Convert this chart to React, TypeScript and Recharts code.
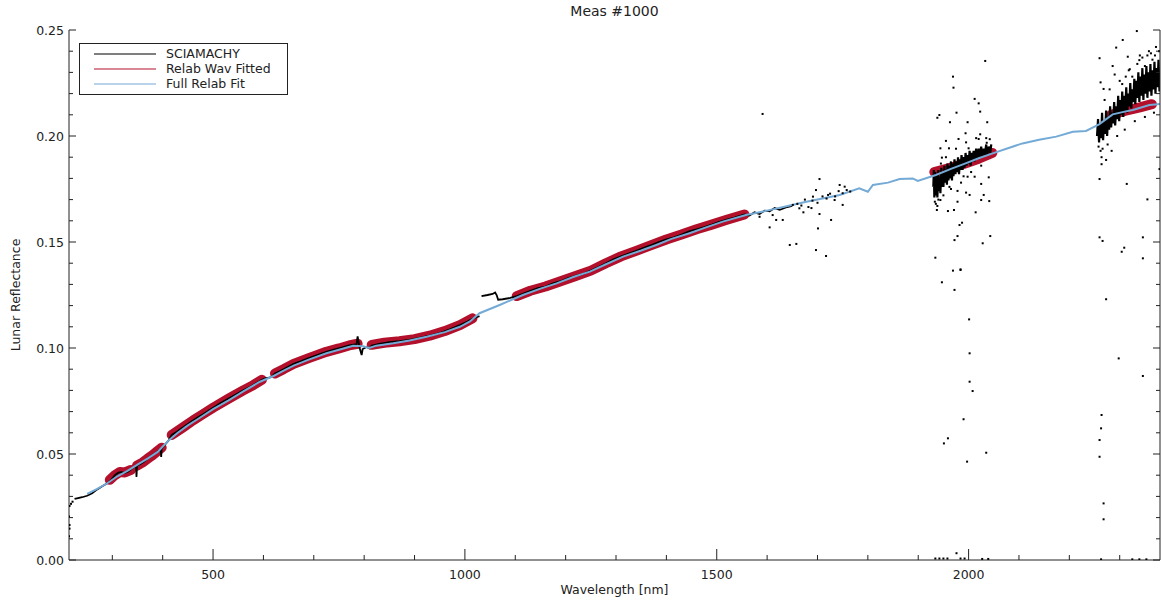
import { ComposedChart, Line, Scatter, XAxis, YAxis } from "recharts";

const W = 1161;
const H = 601;
const PLOT = { left: 69, right: 1160, top: 30, bottom: 560 };
const FONT = "'DejaVu Sans', Verdana, sans-serif";
const INK = "#222";
const RED = "#b3102c";
const BLUE = "#74aad6";

const xDomain: [number, number] = [214, 2380];
const yDomain: [number, number] = [0, 0.25];

const xTicks = [300, 400, 500, 600, 700, 800, 900, 1000, 1100, 1200, 1300, 1400, 1500, 1600, 1700, 1800, 1900, 2000, 2100, 2200, 2300];
const xLabels = [500, 1000, 1500, 2000];
const yTicks = [0, 0.01, 0.02, 0.03, 0.04, 0.05, 0.06, 0.07, 0.08, 0.09, 0.1, 0.11, 0.12, 0.13, 0.14, 0.15, 0.16, 0.17, 0.18, 0.19, 0.2, 0.21, 0.22, 0.23, 0.24, 0.25];
const yLabels = [0, 0.05, 0.1, 0.15, 0.2, 0.25];

// SCIAMACHY spectrum (nm, reflectance) in the UV/visible; null breaks the line
const sciamachy: [number, number | null][] = [
  [225, 0.0288], [232, 0.0292], [240, 0.0296], [250, 0.0303], [260, 0.0315], [270, 0.0333], [280, 0.0348],
  [290, 0.0362], [298, 0.0378], [305, 0.04], [312, 0.0412], [318, 0.0414], [325, 0.0411], [332, 0.0418],
  [337, 0.0428], [343, 0.0438], [347, 0.0445], [348, 0.0392], [349, 0.0445], [355, 0.0452], [362, 0.0462],
  [370, 0.0477], [378, 0.0492], [386, 0.0505], [393, 0.0518], [396, 0.0522], [397, 0.0486], [398, 0.0526],
  [405, 0.0545], [412, 0.0565], [418, 0.059], [428, 0.0605], [440, 0.0625], [450, 0.0642], [460, 0.0658],
  [470, 0.0673], [480, 0.0688], [490, 0.0703], [500, 0.0718], [515, 0.074], [530, 0.076], [545, 0.078],
  [560, 0.08], [575, 0.0818], [590, 0.084], [597, 0.085], [605, 0.0858], [612, 0.086], [618, 0.0868],
  [623, 0.088], [632, 0.089], [640, 0.09], [650, 0.0912], [660, 0.0925], [675, 0.0938], [690, 0.0952],
  [705, 0.0965], [725, 0.0982], [740, 0.0992], [755, 0.1002], [770, 0.1012], [785, 0.1018], [787, 0.1055],
  [791, 0.1], [795, 0.0967], [797, 0.0995], [805, 0.1005], [810, 0.0998], [815, 0.1012], [830, 0.102],
  [850, 0.1028], [870, 0.1032], [890, 0.1038], [910, 0.1048], [930, 0.1058], [950, 0.107], [970, 0.1088],
  [990, 0.1108], [1005, 0.1125], [1015, 0.1138], [1029, 0.115], [1031, null],
  [1033, 0.1245], [1045, 0.125], [1055, 0.1255], [1060, 0.1262], [1063, 0.125], [1066, 0.1228], [1075, 0.123],
  [1090, 0.1236], [1103, 0.1245], [1115, 0.1255], [1130, 0.127], [1145, 0.1282], [1160, 0.129], [1175, 0.1305],
  [1190, 0.1315], [1205, 0.133], [1220, 0.134], [1235, 0.135], [1250, 0.1365], [1265, 0.1382], [1280, 0.14],
  [1295, 0.1418], [1310, 0.1432], [1325, 0.1445], [1340, 0.1458], [1355, 0.1472], [1370, 0.1485], [1385, 0.15],
  [1400, 0.1512], [1415, 0.1522], [1430, 0.1535], [1445, 0.155], [1460, 0.156], [1475, 0.157], [1490, 0.1582],
  [1505, 0.1595], [1520, 0.1605], [1535, 0.1615], [1555, 0.163], [1565, 0.1625], [1575, 0.164], [1585, 0.1632],
  [1595, 0.1648], [1605, 0.1645], [1615, 0.166], [1625, 0.1652], [1640, 0.1665], [1650, 0.167],
];

// SCIAMACHY 2.0 µm band: dense noisy cloud, lower/upper envelope read alternately
const sciaBand2000: [number, number][] = [
  [1930, 0.176], [1931, 0.184], [1932, 0.171], [1934, 0.183], [1935, 0.172], [1937, 0.182], [1938, 0.171],
  [1940, 0.184], [1941, 0.174], [1943, 0.181], [1944, 0.173], [1946, 0.185], [1947, 0.176], [1949, 0.183],
  [1950, 0.176], [1952, 0.186], [1953, 0.178], [1955, 0.184], [1957, 0.177], [1958, 0.187], [1960, 0.179],
  [1962, 0.186], [1963, 0.18], [1965, 0.188], [1967, 0.179], [1968, 0.187], [1970, 0.181], [1972, 0.189],
  [1974, 0.182], [1975, 0.188], [1977, 0.183], [1979, 0.19], [1981, 0.182], [1983, 0.189], [1984, 0.184],
  [1986, 0.191], [1988, 0.184], [1990, 0.19], [1992, 0.185], [1994, 0.192], [1996, 0.186], [1998, 0.191],
  [2000, 0.187], [2002, 0.193], [2004, 0.186], [2006, 0.192], [2008, 0.188], [2010, 0.193], [2012, 0.188],
  [2015, 0.194], [2017, 0.189], [2020, 0.194], [2022, 0.19], [2025, 0.195], [2027, 0.19], [2030, 0.194],
  [2032, 0.191], [2035, 0.196], [2037, 0.191], [2040, 0.195], [2043, 0.192], [2045, 0.196],
];

// SCIAMACHY 2.3 µm band cloud
const sciaBand2300: [number, number][] = [
  [2255, 0.2], [2257, 0.208], [2259, 0.197], [2261, 0.206], [2263, 0.199], [2265, 0.211], [2267, 0.198],
  [2269, 0.207], [2271, 0.201], [2273, 0.212], [2275, 0.2], [2277, 0.209], [2279, 0.203], [2281, 0.214],
  [2283, 0.204], [2285, 0.211], [2287, 0.206], [2289, 0.216], [2291, 0.205], [2293, 0.214], [2295, 0.208],
  [2297, 0.219], [2299, 0.207], [2301, 0.217], [2303, 0.21], [2305, 0.221], [2307, 0.209], [2309, 0.219],
  [2311, 0.212], [2313, 0.223], [2315, 0.211], [2317, 0.22], [2319, 0.214], [2321, 0.225], [2323, 0.213],
  [2325, 0.222], [2327, 0.216], [2329, 0.227], [2331, 0.215], [2333, 0.226], [2335, 0.218], [2337, 0.23],
  [2339, 0.216], [2341, 0.228], [2343, 0.219], [2345, 0.232], [2347, 0.217], [2349, 0.229], [2351, 0.22],
  [2353, 0.233], [2355, 0.218], [2357, 0.23], [2359, 0.221], [2361, 0.234], [2363, 0.219], [2365, 0.231],
  [2367, 0.222], [2369, 0.235], [2371, 0.22], [2373, 0.232], [2375, 0.223], [2377, 0.236], [2379, 0.221],
];

// SCIAMACHY points scattered away from the main trace
const sciaDots: [number, number][] = [
  [214, 0.0112], [215, 0.0148], [215, 0.0165], [214, 0.0205], [215, 0.0255], [218, 0.0265], [221, 0.0275],
  [1585, 0.1619], [1591, 0.2104], [1605, 0.1569], [1611, 0.1627], [1618, 0.1604], [1631, 0.1604], [1645, 0.1486],
  [1651, 0.1675], [1658, 0.1491], [1660, 0.168], [1664, 0.1659], [1668, 0.1672], [1672, 0.164], [1675, 0.17],
  [1682, 0.1665], [1688, 0.166], [1690, 0.1695], [1691, 0.1714], [1697, 0.1745], [1697, 0.1462], [1700, 0.1685],
  [1701, 0.1564], [1704, 0.1797], [1704, 0.1632], [1710, 0.1715], [1717, 0.1434], [1718, 0.1705], [1721, 0.1722],
  [1725, 0.1728], [1727, 0.1604], [1734, 0.1698], [1735, 0.1715], [1742, 0.174], [1744, 0.1769], [1750, 0.1675],
  [1750, 0.173], [1754, 0.1761], [1758, 0.1745], [1765, 0.1738],
  [2033, 0.2354], [1969, 0.228], [1970, 0.2228], [2012, 0.2175], [2020, 0.2154], [1938, 0.2086], [1942, 0.2099],
  [1976, 0.211], [2023, 0.2115], [1963, 0.2065], [1998, 0.2065], [2037, 0.2065], [1994, 0.2013], [2023, 0.2008],
  [1980, 0.1986], [2020, 0.1986], [1955, 0.1977], [1944, 0.1942], [1961, 0.1942], [1947, 0.1898], [2000, 0.1942],
  [2036, 0.1968], [1998, 0.1808], [2012, 0.1808], [2040, 0.1805], [2025, 0.1774], [1978, 0.1741], [1995, 0.1733],
  [2030, 0.1722], [2002, 0.1722], [1944, 0.1698], [1978, 0.169], [2025, 0.1698], [2041, 0.1693], [1937, 0.1651],
  [1959, 0.1646], [1971, 0.1651], [2014, 0.164], [1987, 0.1591], [1982, 0.158], [1978, 0.1528], [1972, 0.1509],
  [2043, 0.1528], [2028, 0.1494], [1934, 0.1426], [1984, 0.1371], [1969, 0.1365], [1984, 0.1368], [1947, 0.131],
  [1972, 0.1274], [2001, 0.1135], [2002, 0.0975], [2002, 0.0841], [2008, 0.0797], [1990, 0.0664], [1959, 0.0574],
  [1951, 0.055], [2035, 0.0506], [1997, 0.0464], [1976, 0.0032],
  [1935, 0.168], [1940, 0.17], [1945, 0.187], [1955, 0.19], [1965, 0.175], [1975, 0.194], [1985, 0.178],
  [1995, 0.197], [2005, 0.183], [2015, 0.199], [2025, 0.186], [2035, 0.199], [2042, 0.1985], [1933, 0.169],
  [1938, 0.167], [1950, 0.172], [1962, 0.176], [1990, 0.181],
  [1934, 0.0007], [1942, 0.0007], [1950, 0.0007], [1958, 0.0007], [1984, 0.0007], [1992, 0.0007], [2027, 0.0005], [2039, 0.0005],
  [2263, 0.0621], [2260, 0.0487], [2268, 0.0192], [2263, 0.0003], [2325, 0.0003], [2339, 0.0003], [2353, 0.0003],
  [2306, 0.2453], [2293, 0.2417], [2334, 0.2495], [2260, 0.2367], [2316, 0.2374], [2286, 0.233], [2262, 0.2253],
  [2268, 0.2222], [2339, 0.2358], [2264, 0.19], [2273, 0.1887], [2264, 0.1867], [2260, 0.1797], [2314, 0.1774],
  [2355, 0.1701], [2379, 0.1844], [2260, 0.1522], [2266, 0.1505], [2304, 0.1454], [2309, 0.1473], [2346, 0.1522],
  [2346, 0.1423], [2273, 0.123], [2298, 0.0951], [2346, 0.0868], [2264, 0.0684], [2260, 0.0566], [2268, 0.0267],
  [2290, 0.229], [2300, 0.226], [2318, 0.231], [2325, 0.228], [2340, 0.238], [2350, 0.233], [2358, 0.24],
  [2365, 0.236], [2372, 0.242], [2376, 0.229], [2280, 0.222], [2270, 0.217], [2284, 0.193], [2295, 0.2],
  [2310, 0.203], [2330, 0.207], [2350, 0.209], [2368, 0.211], [2276, 0.196], [2262, 0.193], [2258, 0.195],
  [2266, 0.194], [2335, 0.234], [2345, 0.237], [2355, 0.238], [2362, 0.239], [2370, 0.238], [2378, 0.24],
  [2320, 0.2315], [2312, 0.228], [2305, 0.2245],
];

// Relab spectrum fitted in wavelength, only where SCIAMACHY is usable
const relabFitted: [number, number | null][] = [
  [295, 0.0378], [305, 0.04], [315, 0.0415], [325, 0.0413], [337, 0.0425], [343, null],
  [349, 0.0445], [360, 0.046], [370, 0.0478], [380, 0.0495], [390, 0.0515], [398, 0.053], [408, null],
  [418, 0.059], [440, 0.0625], [460, 0.0658], [480, 0.0688], [500, 0.0718], [530, 0.076], [560, 0.08],
  [580, 0.0825], [597, 0.085], [610, null],
  [623, 0.088], [640, 0.09], [660, 0.0925], [690, 0.0952], [725, 0.0982], [750, 0.0998], [770, 0.1012],
  [787, 0.102], [800, null],
  [815, 0.1015], [840, 0.1025], [870, 0.1032], [900, 0.1042], [930, 0.1058], [960, 0.108], [990, 0.1108],
  [1015, 0.114], [1060, null],
  [1103, 0.1245], [1130, 0.127], [1160, 0.129], [1190, 0.1315], [1220, 0.134], [1250, 0.1365], [1280, 0.14],
  [1310, 0.1432], [1340, 0.1458], [1370, 0.1485], [1400, 0.1512], [1430, 0.1535], [1460, 0.156], [1490, 0.1582],
  [1520, 0.1605], [1555, 0.163], [1700, null],
  [1932, 0.183], [1960, 0.1848], [1990, 0.1868], [2020, 0.1893], [2047, 0.192], [2150, null],
  [2283, 0.21], [2310, 0.2118], [2340, 0.2135], [2364, 0.215],
];

// full Relab fit across the whole range
const fullRelab: [number, number][] = [
  [250, 0.0312], [270, 0.0335], [290, 0.0362], [310, 0.0395], [330, 0.042], [350, 0.045], [370, 0.0478],
  [390, 0.051], [410, 0.056], [430, 0.06], [450, 0.0635], [470, 0.0665], [500, 0.0712], [530, 0.0752],
  [560, 0.0795], [593, 0.0841], [620, 0.0868], [640, 0.0893], [660, 0.0917], [690, 0.0945], [725, 0.0975],
  [750, 0.0992], [778, 0.1011], [798, 0.1008], [810, 0.1], [824, 0.1011], [858, 0.1022], [890, 0.1035],
  [924, 0.1053], [960, 0.1075], [990, 0.11], [1010, 0.1125], [1029, 0.1164], [1069, 0.1203], [1115, 0.125],
  [1150, 0.128], [1182, 0.1305], [1215, 0.1335], [1248, 0.136], [1280, 0.1395], [1314, 0.1431], [1350, 0.146],
  [1380, 0.1486], [1410, 0.1515], [1446, 0.1541], [1480, 0.157], [1512, 0.1596], [1558, 0.1627], [1590, 0.1643],
  [1611, 0.1654], [1645, 0.1672], [1678, 0.169], [1710, 0.1705], [1744, 0.1722], [1783, 0.1753], [1800, 0.1737],
  [1810, 0.1769], [1840, 0.178], [1863, 0.1797], [1889, 0.18], [1899, 0.1788], [1935, 0.1816], [1965, 0.1845],
  [1994, 0.1871], [2020, 0.1895], [2048, 0.1918], [2075, 0.194], [2107, 0.1965], [2140, 0.1982], [2174, 0.1997],
  [2207, 0.202], [2233, 0.2024], [2259, 0.2055], [2286, 0.2102], [2310, 0.2115], [2326, 0.2123], [2359, 0.2146],
  [2380, 0.2151],
];

const legendItems = [
  { name: "SCIAMACHY", color: "#000" },
  { name: "Relab Wav Fitted", color: RED },
  { name: "Full Relab Fit", color: BLUE },
];

const rows = (a: [number, number | null][]) => a.map(([x, y]) => ({ x, y }));
const isMajorY = (v: number) => yLabels.some((l) => Math.abs(l - v) < 1e-9);

const BottomTick = ({ x, payload }: any) => {
  const major = xLabels.includes(payload.value);
  return (
    <g>
      <line x1={x} x2={x} y1={PLOT.bottom} y2={PLOT.bottom - (major ? 11 : 5)} stroke={INK} />
      {major && (
        <text x={x} y={PLOT.bottom + 19} textAnchor="middle" fontSize={12.5} fontFamily={FONT} fill={INK}>
          {payload.value}
        </text>
      )}
    </g>
  );
};

const TopTick = ({ x, payload }: any) => {
  const major = xLabels.includes(payload.value);
  return <line x1={x} x2={x} y1={PLOT.top} y2={PLOT.top + (major ? 11 : 5)} stroke={INK} />;
};

const LeftTick = ({ y, payload }: any) => {
  const major = isMajorY(payload.value);
  return (
    <g>
      <line x1={PLOT.left} x2={PLOT.left + (major ? 7 : 4)} y1={y} y2={y} stroke={INK} />
      {major && (
        <text x={PLOT.left - 5} y={y + 4.5} textAnchor="end" fontSize={12.5} fontFamily={FONT} fill={INK}>
          {payload.value.toFixed(2)}
        </text>
      )}
    </g>
  );
};

const RightTick = ({ y, payload }: any) => {
  const major = isMajorY(payload.value);
  return <line x1={PLOT.right} x2={PLOT.right - (major ? 7 : 4)} y1={y} y2={y} stroke={INK} />;
};

const Dot = (p: any) => <rect x={p.cx - 1} y={p.cy - 1} width={2} height={2} fill="#000" />;

export default function App() {
  return (
    <div style={{ position: "absolute", left: 0, top: 0, width: W, height: H, background: "#fff", fontFamily: FONT }}>
      <ComposedChart width={W} height={H} margin={{ top: PLOT.top, right: 0, bottom: 0, left: 0 }}>
        <XAxis dataKey="x" type="number" domain={xDomain} ticks={xTicks} interval={0} height={41}
          allowDataOverflow tickLine={false} axisLine={{ stroke: INK }} tick={<BottomTick />} />
        <XAxis xAxisId="top" orientation="top" dataKey="x" type="number" domain={xDomain} ticks={xTicks} interval={0}
          height={0} allowDataOverflow tickLine={false} axisLine={{ stroke: INK }} tick={<TopTick />} />
        <YAxis dataKey="y" type="number" domain={yDomain} ticks={yTicks} interval={0} width={PLOT.left}
          allowDataOverflow tickLine={false} axisLine={{ stroke: INK }} tick={<LeftTick />} />
        <YAxis yAxisId="right" orientation="right" dataKey="y" type="number" domain={yDomain} ticks={yTicks}
          interval={0} width={1} allowDataOverflow tickLine={false} axisLine={{ stroke: INK }} tick={<RightTick />} />
        <Line data={rows(relabFitted)} dataKey="y" stroke={RED} strokeWidth={10} strokeLinecap="round"
          strokeLinejoin="round" dot={false} connectNulls={false} isAnimationActive={false} />
        <Line data={rows(sciamachy)} dataKey="y" stroke="#000" strokeWidth={1.8} dot={false}
          connectNulls={false} isAnimationActive={false} />
        <Line data={rows(sciaBand2000)} dataKey="y" stroke="#000" strokeWidth={2.2} dot={false}
          isAnimationActive={false} />
        <Line data={rows(sciaBand2300)} dataKey="y" stroke="#000" strokeWidth={2.2} dot={false}
          isAnimationActive={false} />
        <Scatter data={rows(sciaDots)} dataKey="y" shape={<Dot />} isAnimationActive={false} />
        <Line data={rows(fullRelab)} dataKey="y" stroke={BLUE} strokeWidth={2} dot={false} isAnimationActive={false} />
      </ComposedChart>

      <div style={{ position: "absolute", left: 0, width: 1229, top: 3, textAlign: "center", fontSize: 14, color: INK }}>
        Meas #1000
      </div>
      <div style={{ position: "absolute", left: 0, width: 1229, top: 582, textAlign: "center", fontSize: 12.5, color: INK }}>
        Wavelength [nm]
      </div>
      <div style={{ position: "absolute", left: 15, top: 295, fontSize: 12.5, color: INK, whiteSpace: "nowrap",
        transform: "translate(-50%, -50%) rotate(-90deg)" }}>
        Lunar Reflectance
      </div>

      <div style={{ position: "absolute", left: 79, top: 43, width: 207, height: 50, border: `1px solid ${INK}`,
        background: "#fff", fontSize: 12.5, color: INK }}>
        {legendItems.map((it, i) => (
          <div key={it.name} style={{ position: "absolute", left: 0, top: 2 + i * 15, height: 15, display: "flex", alignItems: "center" }}>
            <svg width={76} height={15}>
              <line x1={14} x2={76} y1={8} y2={8} stroke={it.color} strokeWidth={1.2} />
            </svg>
            <span style={{ marginLeft: 10, lineHeight: "15px" }}>{it.name}</span>
          </div>
        ))}
      </div>
    </div>
  );
}
